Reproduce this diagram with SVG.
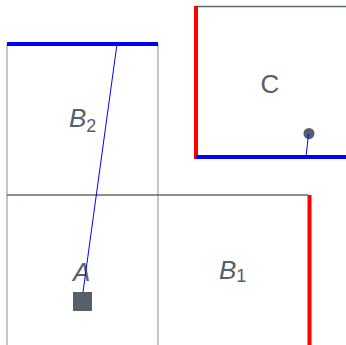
<svg xmlns="http://www.w3.org/2000/svg" width="346" height="345" viewBox="0 0 346 345">
<style>
.lbl{font-family:"Liberation Sans",Arial,sans-serif;font-size:26px;fill:#56606b;font-style:italic}
.up{font-style:normal}
.sub{font-size:18px;font-style:normal}
.edge{stroke:#5f6873;stroke-width:1.3;fill:none}
.light{stroke:#a2a6ac;stroke-width:1.3;fill:none}
.red{stroke:#ff0000;stroke-width:4;fill:none}
.blue{stroke:#0000ff;stroke-width:4;fill:none}
.link{stroke:#0000ff;stroke-width:1;fill:none}
</style>
<rect width="346" height="345" fill="#ffffff"/>
<g id="B2">
<line class="light" x1="7" y1="44" x2="7" y2="345"/>
<line class="light" x1="158" y1="44" x2="158" y2="345"/>
<line class="blue" x1="7" y1="44" x2="158" y2="44"/>
<text class="lbl" x="69" y="127">B<tspan class="sub" dy="5">2</tspan></text>
</g>
<g id="A">
<text class="lbl" x="73" y="281">A</text>
<rect x="73" y="292" width="19" height="19" fill="#56606b"/>
</g>
<g id="B1">
<line class="edge" x1="7" y1="195" x2="308" y2="195"/>
<line class="red" x1="309.5" y1="195" x2="309.5" y2="345"/>
<text class="lbl" x="219" y="279">B<tspan class="sub" dy="3">1</tspan></text>
</g>
<g id="C">
<line class="edge" x1="196" y1="6.5" x2="346" y2="6.5"/>
<line class="red" x1="196" y1="6" x2="196" y2="159"/>
<line class="blue" x1="196" y1="157" x2="346" y2="157"/>
<text class="lbl up" x="270" y="93" text-anchor="middle">C</text>
<circle cx="309" cy="133.5" r="5.5" fill="#56606b"/>
</g>
<g id="connectors">
<line class="link" x1="117" y1="44" x2="83" y2="292"/>
<line class="link" x1="308.5" y1="134" x2="306" y2="157"/>
</g>
</svg>
